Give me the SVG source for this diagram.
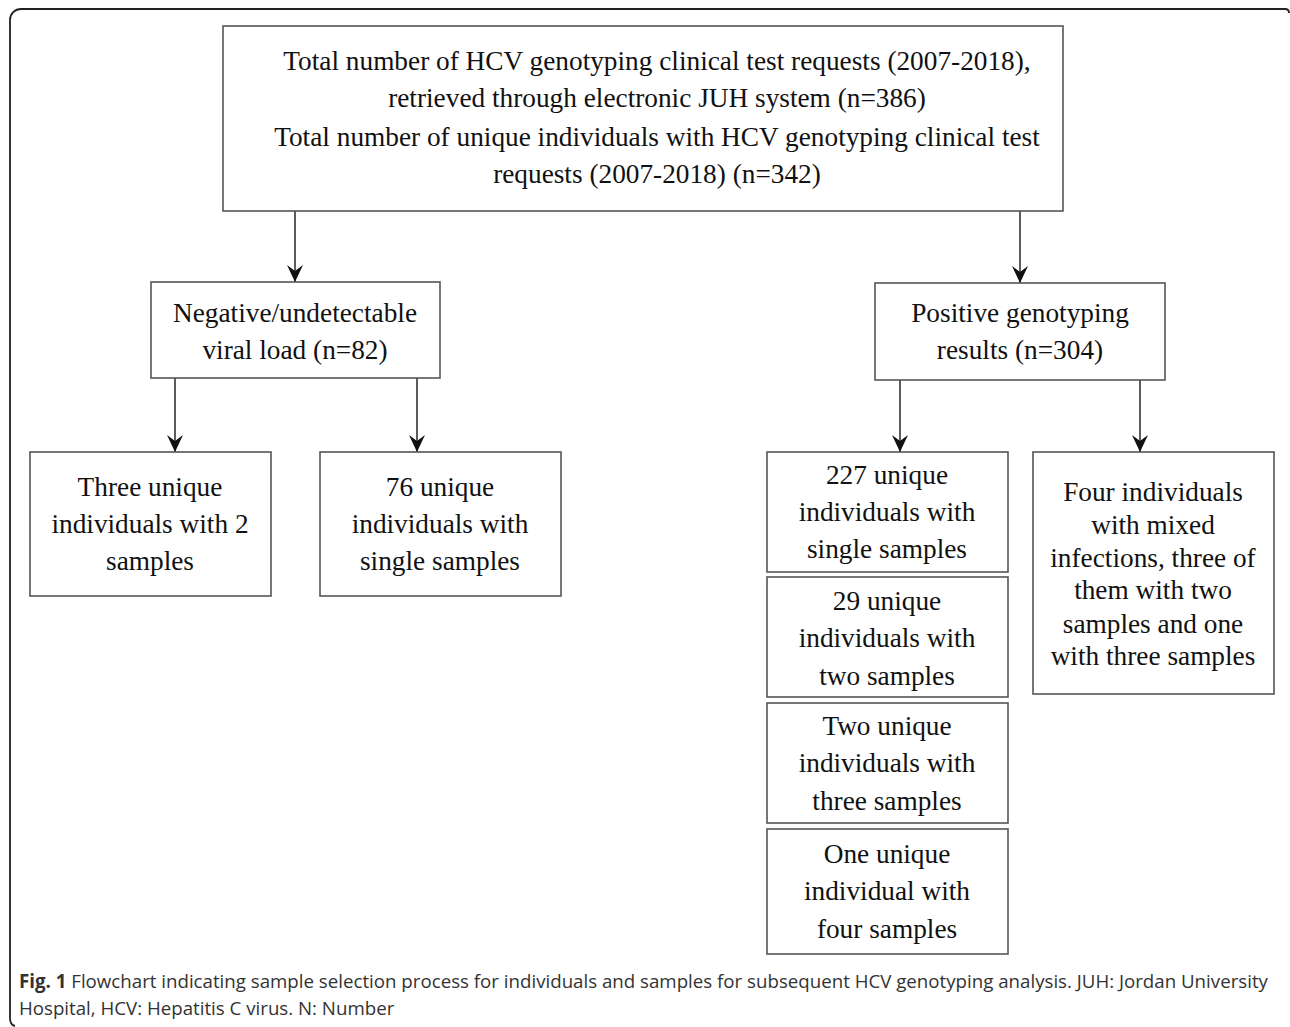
<svg xmlns="http://www.w3.org/2000/svg" width="1290" height="1027" viewBox="0 0 1290 1027">
<style>
.box{fill:#fff;stroke:#555;stroke-width:1.6}
.t{font-family:"Liberation Serif","Times New Roman",serif;font-size:27.3px;fill:#111;text-anchor:middle}
.c{stroke:#333;stroke-width:1.6;fill:none}
.cap{font-family:"Open Sans","Noto Sans",sans-serif;font-size:18.7px;fill:#333}
</style>
<defs>
<marker id="ah" markerUnits="userSpaceOnUse" markerWidth="20" markerHeight="18" viewBox="-18 -9 20 18" refX="0" refY="0" orient="auto">
<path d="M0,0 L-17,-8 L-11,0 L-17,8 Z" fill="#111"/>
</marker>
</defs>
<rect width="1290" height="1027" fill="#fff"/>
<path d="M1289,13 Q1289,9 1285,9 H21 A11 11 0 0 0 10 20 V1018 Q10,1025 15,1026" fill="none" stroke="#222" stroke-width="1.8"/>
<g id="connectors">
<line class="c" x1="295" y1="211" x2="295" y2="282" marker-end="url(#ah)"/>
<line class="c" x1="1020" y1="211" x2="1020" y2="283" marker-end="url(#ah)"/>
<line class="c" x1="175" y1="378" x2="175" y2="452" marker-end="url(#ah)"/>
<line class="c" x1="417" y1="378" x2="417" y2="452" marker-end="url(#ah)"/>
<line class="c" x1="900" y1="380" x2="900" y2="452" marker-end="url(#ah)"/>
<line class="c" x1="1140" y1="380" x2="1140" y2="452" marker-end="url(#ah)"/>
</g>
<g id="top">
<rect class="box" x="223" y="26" width="840" height="185"/>
<text class="t" x="657" y="70">Total number of HCV genotyping clinical test requests (2007-2018),</text>
<text class="t" x="657" y="107">retrieved through electronic JUH system (n=386)</text>
<text class="t" x="657" y="146">Total number of unique individuals with HCV genotyping clinical test</text>
<text class="t" x="657" y="183">requests (2007-2018) (n=342)</text>
</g>
<g id="neg">
<rect class="box" x="151" y="282" width="289" height="96"/>
<text class="t" x="295" y="322">Negative/undetectable</text>
<text class="t" x="295" y="359">viral load (n=82)</text>
</g>
<g id="pos">
<rect class="box" x="875" y="283" width="290" height="97"/>
<text class="t" x="1020" y="322">Positive genotyping</text>
<text class="t" x="1020" y="359">results (n=304)</text>
</g>
<g id="three">
<rect class="box" x="30" y="452" width="241" height="144"/>
<text class="t" x="150" y="496">Three unique</text>
<text class="t" x="150" y="533">individuals with 2</text>
<text class="t" x="150" y="570">samples</text>
</g>
<g id="s76">
<rect class="box" x="320" y="452" width="241" height="144"/>
<text class="t" x="440" y="496">76 unique</text>
<text class="t" x="440" y="533">individuals with</text>
<text class="t" x="440" y="570">single samples</text>
</g>
<g id="s227">
<rect class="box" x="767" y="452" width="241" height="120"/>
<text class="t" x="887" y="484">227 unique</text>
<text class="t" x="887" y="521">individuals with</text>
<text class="t" x="887" y="558">single samples</text>
</g>
<g id="s29">
<rect class="box" x="767" y="577" width="241" height="120"/>
<text class="t" x="887" y="610">29 unique</text>
<text class="t" x="887" y="647">individuals with</text>
<text class="t" x="887" y="685">two samples</text>
</g>
<g id="s2">
<rect class="box" x="767" y="703" width="241" height="120"/>
<text class="t" x="887" y="735">Two unique</text>
<text class="t" x="887" y="772">individuals with</text>
<text class="t" x="887" y="810">three samples</text>
</g>
<g id="s1">
<rect class="box" x="767" y="829" width="241" height="125"/>
<text class="t" x="887" y="863">One unique</text>
<text class="t" x="887" y="900">individual with</text>
<text class="t" x="887" y="938">four samples</text>
</g>
<g id="mixed">
<rect class="box" x="1033" y="452" width="241" height="242"/>
<text class="t" x="1153" y="501">Four individuals</text>
<text class="t" x="1153" y="534">with mixed</text>
<text class="t" x="1153" y="567">infections, three of</text>
<text class="t" x="1153" y="599">them with two</text>
<text class="t" x="1153" y="633">samples and one</text>
<text class="t" x="1153" y="665">with three samples</text>
</g>
<g id="caption">
<text class="cap" x="19" y="988"><tspan font-weight="bold">Fig. 1</tspan> Flowchart indicating sample selection process for individuals and samples for subsequent HCV genotyping analysis. JUH: Jordan University</text>
<text class="cap" x="19" y="1015">Hospital, HCV: Hepatitis C virus. N: Number</text>
</g>
</svg>
